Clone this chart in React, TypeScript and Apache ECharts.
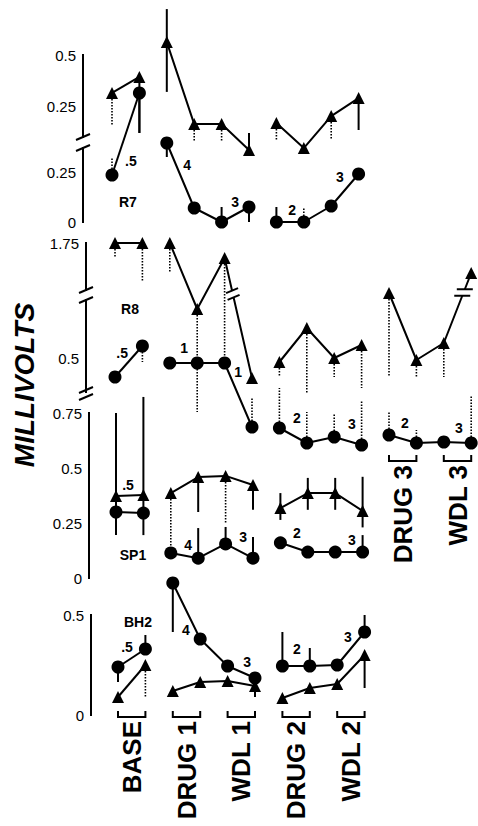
import React, { useEffect, useRef } from "react";
import * as echarts from "echarts";

// ---------------- data ----------------
// x index: BASE 0,1 | DRUG 1 2,3 | WDL 1 4,5 | DRUG 2 6,7 | WDL 2 8,9 | DRUG 3 10,11 | WDL 3 12,13
const lowerGroups = ["BASE", "DRUG 1", "WDL 1", "DRUG 2", "WDL 2"];
const upperGroups = ["DRUG 3", "WDL 3"];
const segments = [[0, 1], [2, 5], [6, 9], [10, 13]];

const r7Triangle = [0.315, 0.393, 0.563, 0.163, 0.163, 0.037, 0.168, 0.046, 0.202, 0.29];
const r7Circle = [0.235, 0.645, 0.395, 0.07, 0, 0.075, 0, 0, 0.08, 0.24];
const r8Triangle = [1.75, 1.75, 1.75, 1.42, 1.675, 1.075, 1.155, 1.325, 1.175, 1.24, 1.5, 1.165, 1.25, 1.6];
const r8Circle = [0.405, 0.56, 0.475, 0.475, 0.475, 0.155, 0.15, 0.075, 0.105, 0.065, 0.115, 0.075, 0.08, 0.075];
const sp1Triangle = [0.373, 0.377, 0.386, 0.459, 0.464, 0.423, 0.318, 0.386, 0.386, 0.305];
const sp1Circle = [0.3, 0.295, 0.114, 0.09, 0.155, 0.09, 0.16, 0.118, 0.118, 0.118];
const bh2Circle = [0.24, 0.33, 0.66, 0.38, 0.245, 0.185, 0.245, 0.245, 0.25, 0.415];
const bh2Triangle = [0.09, 0.25, 0.12, 0.165, 0.17, 0.145, 0.085, 0.135, 0.155, 0.3];

// error bars: [index, end value, dotted]
const r7TriangleErr = [[0, 0.159, 1], [1, 0.12, 0], [2, 0.724, 0], [2, 0.32, 0], [3, 0.076, 1], [4, 0.076, 1], [5, 0.12, 0], [6, 0.085, 1], [8, 0.085, 1], [9, 0.134, 0]];
const r7CircleErr = [[0, 0.32, 1], [1, 0.445, 0], [2, 0.325, 0], [4, 0.075, 0], [5, 0, 0], [6, 0.075, 0], [7, 0.075, 1]];
const r8TriangleErr = [[0, 1.68, 1], [1, 1.555, 1], [2, 1.6, 1], [3, 1.18, 1], [4, 1.18, 1], [6, 1.08, 1], [7, 1.0, 1], [8, 1.08, 1], [9, 1.025, 1], [10, 1.08, 1], [11, 1.075, 1], [12, 1.08, 1]];
const r8CircleErr = [[1, 0.48, 1], [3, 0.23, 1], [5, 0.305, 1], [6, 0.35, 1], [7, 0.23, 1], [8, 0.225, 1], [9, 0.29, 1], [10, 0.23, 1], [11, 0.14, 1], [13, 0.315, 1]];
const sp1TriangleErr = [[0, 0.75, 0], [0, 0.195, 0], [1, 0.823, 0], [1, 0.195, 0], [2, 0.14, 1], [3, 0.3, 0], [4, 0.25, 1], [5, 0.31, 0], [6, 0.386, 0], [6, 0.264, 0], [7, 0.455, 0], [7, 0.31, 0], [8, 0.455, 0], [8, 0.31, 0], [9, 0.46, 0], [9, 0.23, 0]];
const sp1CircleErr = [[3, 0.227, 0], [4, 0.232, 0], [5, 0.186, 0], [9, 0.195, 0]];
const bh2CircleErr = [[0, 0.165, 0], [1, 0.4, 0], [2, 0.415, 0], [6, 0.415, 0], [7, 0.335, 0], [9, 0.5, 0]];
const bh2TriangleErr = [[1, 0.085, 1], [5, 0.09, 0], [9, 0.135, 0]];

// tick labels
const r7TopTicks = [0.25, 0.5];
const r7BottomTicks = [0, 0.25];
const r8TopTicks = [1.75];
const r8BottomTicks = [0.5];
const sp1Ticks = [0, 0.25, 0.5, 0.75];
const bh2Ticks = [0, 0.5];

// annotations: [x, y, text]
const r7Notes = [[0.69, 0.305, ".5"], [2.74, 0.285, "4"], [4.49, 0.1, "3"], [6.57, 0.06, "2"], [8.32, 0.225, "3"], [0.58, 0.1, "R7"]];
const r8Notes = [[0.26, 0.525, ".5"], [2.52, 0.55, "1"], [4.49, 0.43, "1"], [0.55, 0.745, "R8"], [6.64, 0.2, "2"], [8.65, 0.17, "3"], [10.58, 0.175, "2"], [12.55, 0.15, "3"]];
const sp1Notes = [[0.44, 0.423, ".5"], [2.63, 0.15, "4"], [4.64, 0.186, "3"], [6.6, 0.205, "2"], [8.61, 0.173, "3"], [0.62, 0.105, "SP1"]];
const bh2Notes = [[0.33, 0.34, ".5"], [2.48, 0.425, "4"], [4.71, 0.265, "3"], [6.53, 0.33, "2"], [8.39, 0.39, "3"], [0.73, 0.465, "BH2"]];

// ---------------- layout ----------------
const STEP = 27.4;
const panels = [
  { left: 112, top: 55, height: 82, min: 0.1, max: 0.5, labels: r7TopTicks, outTicks: [0.25], inTicks: [0.5], gap: 29 },
  { left: 112, top: 148, height: 74, min: 0, max: 0.37, labels: r7BottomTicks, outTicks: [0.25], inTicks: [0], gap: 29 },
  { left: 115, top: 243, height: 47, min: 1.515, max: 1.75, labels: r8TopTicks, outTicks: [], inTicks: [1.75], gap: 29 },
  { left: 115, top: 300, height: 92, min: 0.33, max: 0.79, labels: r8BottomTicks, outTicks: [0.5], inTicks: [], gap: 29 },
  { left: 116, top: 413, height: 165, min: 0, max: 0.75, labels: sp1Ticks, outTicks: [0.25, 0.5], inTicks: [0, 0.75], gap: 27 },
  { left: 118, top: 615, height: 100, min: 0, max: 0.5, labels: bh2Ticks, outTicks: [], inTicks: [0, 0.5], gap: 27 },
];

const FONT = "'Liberation Sans', Arial, Helvetica, sans-serif";

function lineSeries(values: number[], g: number, symbol: string, size: number) {
  return segments
    .filter(([a]) => a < values.length)
    .map(([a, b]) => ({
      type: "line",
      xAxisIndex: g,
      yAxisIndex: g,
      data: values.slice(a, b + 1).map((v, k) => [a + k, v]),
      symbol,
      symbolSize: size,
      clip: false,
      z: 3,
      lineStyle: { color: "#000", width: 2 },
      itemStyle: { color: "#000" },
      emphasis: { disabled: true },
    }));
}

// the left axis of each panel, drawn as a polyline through the panel's own scale
function axisSeries(p: any, g: number) {
  const ax = -p.gap / STEP;
  const tx = 5 / STEP;
  const ix = 6 / STEP;
  const pts: number[][] = [];
  const all = [...p.inTicks.map((v: number) => [v, 1]), ...p.outTicks.map((v: number) => [v, -1])];
  pts.push([ax, p.max]);
  all
    .sort((a: number[], b: number[]) => b[0] - a[0])
    .forEach(([v, dir]: number[]) => {
      pts.push([ax, v], [ax + (dir > 0 ? ix : -tx), v], [ax, v]);
    });
  pts.push([ax, p.min]);
  return {
    type: "line",
    xAxisIndex: g,
    yAxisIndex: g,
    data: pts,
    symbol: "none",
    clip: false,
    silent: true,
    z: 6,
    lineStyle: { color: "#000", width: 2, cap: "butt", join: "miter" },
  };
}

function errSeries(values: number[], errs: number[][], g: number) {
  return {
    type: "custom",
    xAxisIndex: g,
    yAxisIndex: g,
    clip: false,
    z: 2,
    encode: { x: 0, y: [1, 2] },
    data: errs.map(([i, end, d]) => [i, values[i], end, d]),
    renderItem: (_p: any, api: any) => {
      const a = api.coord([api.value(0), api.value(1)]);
      const b = api.coord([api.value(0), api.value(2)]);
      const dotted = api.value(3) === 1;
      return {
        type: "line",
        shape: { x1: a[0], y1: a[1], x2: b[0], y2: b[1] },
        style: { stroke: "#000", lineWidth: dotted ? 1.6 : 2, lineDash: dotted ? [1.5, 1.5] : null },
      };
    },
  };
}

function noteSeries(notes: any[], g: number) {
  return {
    type: "custom",
    xAxisIndex: g,
    yAxisIndex: g,
    clip: false,
    z: 4,
    data: notes.map((n) => [n[0], n[1]]),
    renderItem: (p: any, api: any) => {
      const c = api.coord([api.value(0), api.value(1)]);
      return {
        type: "text",
        x: c[0],
        y: c[1],
        style: {
          text: notes[p.dataIndex][2],
          fontSize: 14,
          fontWeight: "bold",
          fontFamily: FONT,
          fill: "#000",
          align: "center",
          verticalAlign: "middle",
        },
      };
    },
  };
}

function groupSeries(names: string[], first: number, g: number, drop: number) {
  return {
    type: "custom",
    xAxisIndex: g,
    yAxisIndex: g,
    clip: false,
    z: 4,
    data: names.map((_, k) => [first + 2 * k, first + 2 * k + 1, 0]),
    renderItem: (p: any, api: any) => {
      const a = api.coord([api.value(0), api.value(2)]);
      const b = api.coord([api.value(1), api.value(2)]);
      const y = a[1] + drop;
      return {
        type: "group",
        children: [
          {
            type: "polyline",
            shape: { points: [[a[0], y - 6], [a[0], y], [b[0], y], [b[0], y - 6]] },
            style: { stroke: "#000", lineWidth: 2, fill: null },
          },
          {
            type: "text",
            x: (a[0] + b[0]) / 2,
            y: y + 4,
            rotation: Math.PI / 2,
            style: {
              text: names[p.dataIndex],
              fontSize: 26,
              fontWeight: "bold",
              fontFamily: FONT,
              fill: "#000",
              align: "right",
              verticalAlign: "middle",
            },
          },
        ],
      };
    },
  };
}

const seg = (x1: number, y1: number, x2: number, y2: number, stroke = "#000", width = 2, z = 10) => ({
  type: "line",
  z,
  shape: { x1, y1, x2, y2 },
  style: { stroke, lineWidth: width },
});
const bar = (x: number, y: number, w: number, h: number) => ({
  type: "rect",
  z: 100,
  shape: { x, y, width: w, height: h },
  style: { fill: "#000" },
});
const slash = (cx: number, cy: number) => seg(cx - 7, cy + 3, cx + 7, cy - 3);

export default function App() {
  const ref = useRef<HTMLDivElement>(null);
  useEffect(() => {
    document.body.style.margin = "0";
    const chart = echarts.init(ref.current!, null, { renderer: "svg" });

    const grid = panels.map((p) => ({ left: p.left, top: p.top, height: p.height, width: 13 * STEP }));
    const xAxis = panels.map((_, g) => ({ gridIndex: g, type: "value", min: 0, max: 13, show: false }));
    const yAxis = panels.map((p, g) => ({
      gridIndex: g,
      type: "value",
      min: p.min,
      max: p.max,
      position: "left",
      offset: p.gap,
      axisLine: { show: false, onZero: false },
      axisTick: { show: false },
      axisLabel: {
        customValues: p.labels,
        color: "#000",
        fontSize: 15,
        fontFamily: FONT,
        margin: 7,
        formatter: (v: number) => String(v),
      },
      splitLine: { show: false },
    }));

    const series: any[] = [
      ...panels.map((p, g) => axisSeries(p, g)),
      ...lineSeries(r7Triangle, 0, "triangle", 12),
      errSeries(r7Triangle, r7TriangleErr, 0),
      ...lineSeries(r7Circle, 1, "circle", 13),
      errSeries(r7Circle, r7CircleErr, 1),
      noteSeries(r7Notes, 1),
      ...lineSeries(r8Triangle, 2, "triangle", 12),
      errSeries(r8Triangle, r8TriangleErr, 2),
      ...lineSeries(r8Circle, 3, "circle", 13),
      errSeries(r8Circle, r8CircleErr, 3),
      noteSeries(r8Notes, 3),
      groupSeries(upperGroups, 10, 3, 3),
      ...lineSeries(sp1Triangle, 4, "triangle", 12),
      errSeries(sp1Triangle, sp1TriangleErr, 4),
      ...lineSeries(sp1Circle, 4, "circle", 13),
      errSeries(sp1Circle, sp1CircleErr, 4),
      noteSeries(sp1Notes, 4),
      ...lineSeries(bh2Triangle, 5, "triangle", 12),
      errSeries(bh2Triangle, bh2TriangleErr, 5),
      ...lineSeries(bh2Circle, 5, "circle", 13),
      errSeries(bh2Circle, bh2CircleErr, 5),
      noteSeries(bh2Notes, 5),
      groupSeries(lowerGroups, 0, 5, 2),
    ];

    chart.setOption({ animation: false, backgroundColor: "#fff", grid, xAxis, yAxis, series });

    const px = (g: number, x: number, v: number) =>
      chart.convertToPixel({ xAxisIndex: g, yAxisIndex: g } as any, [x, v]) as number[];
    const els: any[] = [];
    const ax: number[] = [];
    panels.forEach((p, g) => {
      const top = px(g, 0, p.max);
      const bot = px(g, 0, p.min);
      const x = top[0] - p.gap;
      ax.push(x);
      els.push(bar(x - 1, top[1] - 1, 2, bot[1] - top[1] + 2));
    });
    // break marks on the axes
    const r7TopEnd = px(0, 0, panels[0].min)[1];
    const r7BotStart = px(1, 0, panels[1].max)[1];
    const r8TopEnd = px(2, 0, panels[2].min)[1];
    const r8BotStart = px(3, 0, panels[3].max)[1];
    const r8BotEnd = px(3, 0, panels[3].min)[1];
    els.push(slash(ax[0], r7TopEnd), slash(ax[1], r7BotStart));
    els.push(slash(ax[2], r8TopEnd), slash(ax[3], r8BotStart));
    els.push(slash(ax[3], r8BotEnd - 2), slash(ax[3], r8BotEnd + 5));

    // break marks on two data lines of R8 (between triangles 4-5 and 12-13)
    const lineBreak = (i: number, j: number, t: number, horizontal: boolean) => {
      const a = px(2, i, r8Triangle[i]);
      const b = px(2, j, r8Triangle[j]);
      const cx = a[0] + (b[0] - a[0]) * t;
      const cy = a[1] + (b[1] - a[1]) * t;
      const dx = b[0] - a[0];
      const dy = b[1] - a[1];
      const len = Math.hypot(dx, dy);
      const ux = dx / len;
      const uy = dy / len;
      const h = 3.5;
      const out: any[] = [seg(cx - ux * h, cy - uy * h, cx + ux * h, cy + uy * h, "#fff", 5, 10)];
      [-h, h].forEach((o) => {
        const ox = cx + ux * o;
        const oy = cy + uy * o;
        if (horizontal) out.push(seg(ox - 8, oy, ox + 8, oy - 0.01, "#000", 2, 11));
        else out.push(seg(ox - 6, oy + 2.5, ox + 6, oy - 2.5, "#000", 2, 11));
      });
      return out;
    };

    chart.setOption({
      graphic: [
        {
          type: "text",
          x: 24,
          y: 385,
          rotation: Math.PI / 2,
          style: {
            text: "MILLIVOLTS",
            fontSize: 28,
            fontWeight: "bold",
            fontStyle: "italic",
            fontFamily: FONT,
            fill: "#000",
            align: "center",
            verticalAlign: "middle",
          },
        },
        ...els,
        ...lineBreak(4, 5, 0.3, false),
        ...lineBreak(12, 13, 0.72, true),
      ],
    });
    return () => chart.dispose();
  }, []);
  return <div ref={ref} style={{ width: 478, height: 826 }} />;
}
